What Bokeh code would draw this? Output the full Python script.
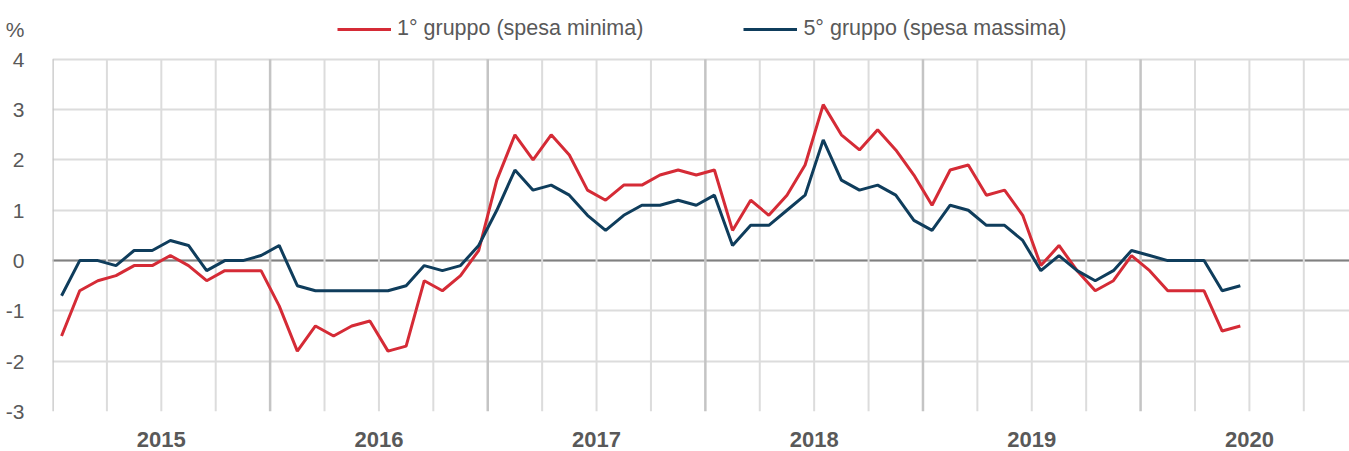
from bokeh.plotting import figure
from bokeh.models import (FixedTicker, Span, Legend, LegendItem, Range1d)
from bokeh.embed import file_html
from bokeh.resources import INLINE

# ---- data (monthly, Jan 2015 - Jun 2020) ----
years = [2015, 2016, 2017, 2018, 2019, 2020]
year_labels = ["2015", "2016", "2017", "2018", "2019", "2020"]
start_year = 2015
gruppo1 = [-1.5, -0.6, -0.4, -0.3, -0.1, -0.1, 0.1, -0.1, -0.4, -0.2, -0.2, -0.2,
           -0.9, -1.8, -1.3, -1.5, -1.3, -1.2, -1.8, -1.7, -0.4, -0.6, -0.3, 0.2,
           1.6, 2.5, 2.0, 2.5, 2.1, 1.4, 1.2, 1.5, 1.5, 1.7, 1.8, 1.7,
           1.8, 0.6, 1.2, 0.9, 1.3, 1.9, 3.1, 2.5, 2.2, 2.6, 2.2, 1.7,
           1.1, 1.8, 1.9, 1.3, 1.4, 0.9, -0.1, 0.3, -0.2, -0.6, -0.4, 0.1,
           -0.2, -0.6, -0.6, -0.6, -1.4, -1.3]
gruppo5 = [-0.7, 0.0, 0.0, -0.1, 0.2, 0.2, 0.4, 0.3, -0.2, 0.0, 0.0, 0.1,
           0.3, -0.5, -0.6, -0.6, -0.6, -0.6, -0.6, -0.5, -0.1, -0.2, -0.1, 0.3,
           1.0, 1.8, 1.4, 1.5, 1.3, 0.9, 0.6, 0.9, 1.1, 1.1, 1.2, 1.1,
           1.3, 0.3, 0.7, 0.7, 1.0, 1.3, 2.4, 1.6, 1.4, 1.5, 1.3, 0.8,
           0.6, 1.1, 1.0, 0.7, 0.7, 0.4, -0.2, 0.1, -0.2, -0.4, -0.2, 0.2,
           0.1, 0.0, 0.0, 0.0, -0.6, -0.5]
y_ticks = [-3, -2, -1, 0, 1, 2, 3, 4]
y_tick_labels = ["-3", "-2", "-1", "0", "1", "2", "3", "4"]
unit_label = "%"
label1 = "1° gruppo (spesa minima)"
label5 = "5° gruppo (spesa massima)"

x = [start_year + (i + 0.5) / 12 for i in range(len(gruppo1))]

RED = "#d52b36"
BLUE = "#0f3d5c"
TXT = "#595959"
FONT = "Liberation Sans"

Y_TOP = 5.17      # frame extends above the last gridline to host legend
UNIT_POS = 4.6

p = figure(width=1349, height=451, output_backend="svg", toolbar_location=None,
           x_range=Range1d(2015, 2020.96), y_range=Range1d(-3, Y_TOP),
           min_border_left=52, min_border_top=0, min_border_bottom=40, min_border_right=0)
p.outline_line_color = None
p.background_fill_color = "white"

# horizontal grid
p.xgrid.visible = False
p.ygrid.ticker = FixedTicker(ticks=y_ticks)
p.ygrid.grid_line_color = "#dcdcdc"
p.ygrid.grid_line_width = 2
p.add_layout(Span(location=0, dimension="width", line_color="#808080",
                  line_width=2, level="underlay"))

# vertical grid (quarters and years), limited to the value band
quarters = [y + q / 4 for y in years for q in (1, 2, 3)]
p.segment(x0=quarters, x1=quarters, y0=y_ticks[0], y1=y_ticks[-1],
          line_color="#dcdcdc", line_width=2)
p.segment(x0=years, x1=years, y0=y_ticks[0], y1=y_ticks[-1],
          line_color="#c4c4c4", line_width=2.5)

# axes
p.xaxis.ticker = FixedTicker(ticks=[y + 0.5 for y in years])
p.xaxis.major_label_overrides = {y + 0.5: l for y, l in zip(years, year_labels)}
p.yaxis.ticker = FixedTicker(ticks=y_ticks + [UNIT_POS])
ov = {t: l for t, l in zip(y_ticks, y_tick_labels)}
ov[UNIT_POS] = unit_label
p.yaxis.major_label_overrides = ov
for ax in (p.xaxis, p.yaxis):
    ax.axis_line_color = None
    ax.major_tick_line_color = None
    ax.minor_tick_line_color = None
    ax.major_label_text_color = TXT
    ax.major_label_text_font = FONT
p.xaxis.major_label_text_font_size = "22px"
p.xaxis.major_label_text_font_style = "bold"
p.xaxis.major_label_standoff = 14
p.yaxis.major_label_text_font_size = "21px"
p.yaxis.major_label_standoff = 22

r1 = p.line(x, gruppo1, line_color=RED, line_width=3)
r5 = p.line(x, gruppo5, line_color=BLUE, line_width=3)

legend = Legend(items=[LegendItem(label=label1, renderers=[r1]),
                       LegendItem(label=label5, renderers=[r5])],
                orientation="horizontal", location=(285, 370),
                glyph_width=54, glyph_height=20, label_standoff=6, spacing=100,
                padding=0, margin=0, border_line_color=None, background_fill_alpha=0,
                label_text_font=FONT, label_text_font_size="21.5px", label_text_color=TXT)
p.add_layout(legend, "center")

open("out.html", "w").write(file_html(p, INLINE))
